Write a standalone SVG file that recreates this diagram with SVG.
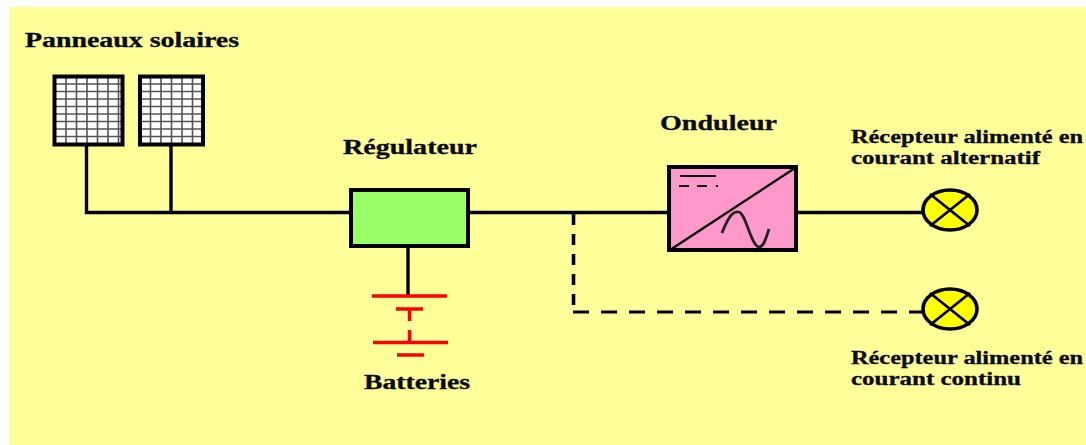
<svg xmlns="http://www.w3.org/2000/svg" width="1086" height="445" viewBox="0 0 1086 445">
<style>
text{font-family:"Liberation Serif","Times New Roman",serif;font-weight:bold;fill:#0a0a0a;stroke:#0a0a0a;stroke-width:.3;font-size:18px;}
.l{font-size:20px}
.w{fill:none;stroke:#000;stroke-width:3.4}
.dv{fill:none;stroke:#000;stroke-width:3.6;stroke-dasharray:11 9}
.dh{fill:none;stroke:#000;stroke-width:3;stroke-dasharray:16 12}
.r{fill:none;stroke:#f00;stroke-width:3.4}
.g{stroke:#555;stroke-width:1.600;fill:none}
.lamp{fill:#ff0;stroke:#000;stroke-width:3.6}
.x{stroke:#000;stroke-width:2.800;fill:none}
.frame{fill:none;stroke:#000;stroke-width:4}
</style>
<defs>
<g id="grid">
<path class="g" d="M11.500 0V68M22 0V68M32.500 0V68M43 0V68M53.500 0V68M64 0V68M0 7.500H68M0 15H68M0 22.500H68M0 30H68M0 37.500H68M0 45H68M0 52.500H68M0 60H68"/>
</g>
<g id="lampx"><path class="x" d="M-20-16L20 16M20-16L-20 16"/></g>
</defs>
<rect x="0" y="0" width="1086" height="445" fill="#fff"/>
<rect x="9" y="7" width="1077" height="438" fill="#ffff99"/>
<g id="connectors">
<path class="w" d="M86.500 144V212.500H350M171 144V212.500M468 212.500H668M796 212.500H922M408 246V296"/>
<path class="dv" d="M573.500 214V306"/>
<path class="dh" d="M573 312H922"/>
</g>
<g id="panel1"><rect x="54.500" y="76.500" width="68" height="68" fill="#fff"/><use href="#grid" x="54.500" y="76.500"/><rect class="frame" x="54.500" y="76.500" width="68" height="68"/></g>
<g id="panel2"><rect x="140" y="76.500" width="63" height="68" fill="#fff"/><svg x="140" y="76.500" width="63" height="68" viewBox="0 0 63 68"><use href="#grid" x="-1"/></svg><rect class="frame" x="140" y="76.500" width="63" height="68"/></g>
<g id="label-panneaux"><text class="l" x="25" y="47" textLength="214" lengthAdjust="spacingAndGlyphs">Panneaux solaires</text></g>
<g id="regulateur"><rect x="351" y="190" width="117" height="56" fill="#99ff66" stroke="#000" stroke-width="4"/><text class="l" x="343" y="154" textLength="134" lengthAdjust="spacingAndGlyphs">Régulateur</text></g>
<g id="batteries"><path class="r" d="M372 296H447M396 309H423M409.500 309V321M409.500 330V342.500M373 342.500H448M397 355H424"/><text class="l" x="364" y="389" textLength="106" lengthAdjust="spacingAndGlyphs">Batteries</text></g>
<g id="onduleur"><rect x="669" y="167" width="127" height="83" fill="#ff99cc" stroke="#000" stroke-width="4"/>
<path d="M670 250L795 168" fill="none" stroke="#000" stroke-width="2.400"/>
<path d="M680 176H716M679 186H689M697 186H707M716 186H718" fill="none" stroke="#000" stroke-width="2"/>
<path d="M722 233C730 212 735 211 739 212C746 214 751 246 759 247C764 247 766 238 769 229" fill="none" stroke="#222" stroke-width="2.800"/>
<text class="l" x="660" y="130" textLength="117" lengthAdjust="spacingAndGlyphs">Onduleur</text></g>
<g id="recepteur-ac"><ellipse class="lamp" cx="950" cy="210" rx="27" ry="20"/><use href="#lampx" x="950" y="210"/><text x="851" y="143" textLength="232" lengthAdjust="spacingAndGlyphs">Récepteur alimenté en</text><text x="851" y="164" textLength="189" lengthAdjust="spacingAndGlyphs">courant alternatif</text></g>
<g id="recepteur-dc"><ellipse class="lamp" cx="950" cy="309" rx="27" ry="20"/><use href="#lampx" x="950" y="309"/><text x="851" y="364" textLength="232" lengthAdjust="spacingAndGlyphs">Récepteur alimenté en</text><text x="851" y="385" textLength="170" lengthAdjust="spacingAndGlyphs">courant continu</text></g>
</svg>
